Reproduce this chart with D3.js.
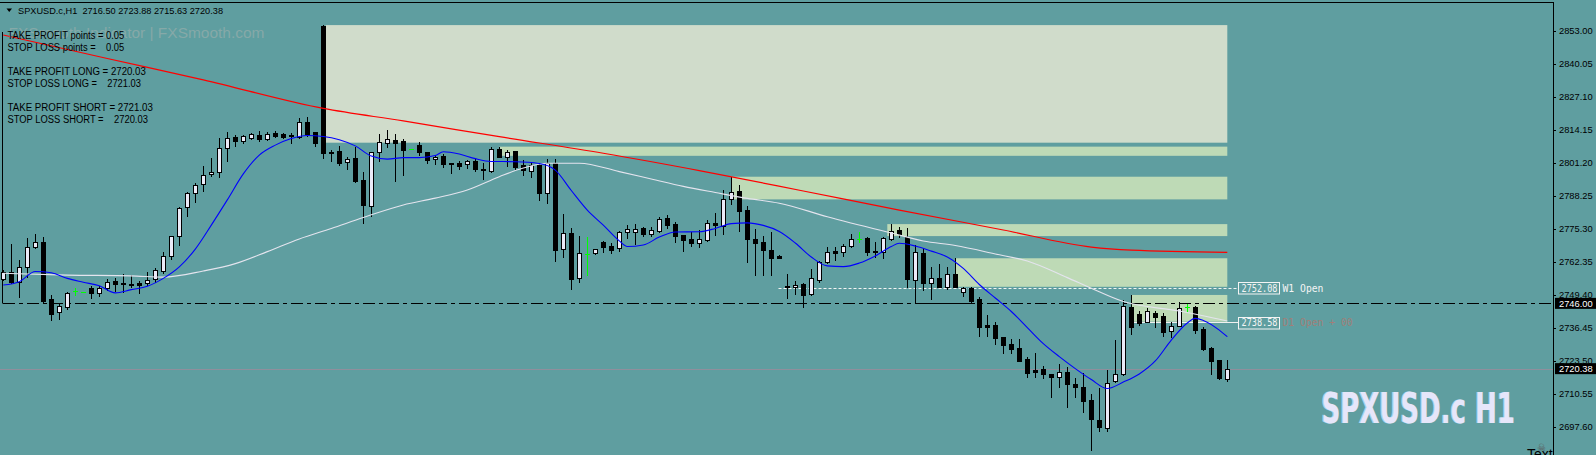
<!DOCTYPE html>
<html><head><meta charset="utf-8">
<script src="https://cdn.jsdelivr.net/npm/d3@7"></script>
<style>
html,body{margin:0;padding:0;background:#5f9ea0;overflow:hidden}
svg{display:block}
text{white-space:pre}
</style></head><body>
<svg id="c" width="1596" height="455"></svg>
<script>
// ---------------- DATA ----------------
const symbolTitle = "SPXUSD.c,H1";
const titleOHLC = "2716.50 2723.88 2715.63 2720.38";
const opens = [2755.4,2758.4,2754.5,2760.2,2768.2,2770.1,2747.6,2742.7,2744.5,2750.8,2750.5,2752.1,2750.2,2751.9,2754.8,2753.9,2753.6,2754.1,2753.9,2755.4,
2758.7,2764.6,2772.5,2783.7,2789.2,2792.7,2796.6,2797.7,2806.9,2811.4,2809.7,2810.8,2812.1,2810.4,2813.0,2812.3,2811.9,2811.4,2817.1,2813.1,
2854.8,2805.4,2805.8,2801.6,2803.2,2794.4,2784.3,2805.3,2809.0,2810.1,2809.7,2806.5,2808.1,2805.3,2802.5,2803.8,2801.0,2801.0,2800.6,2801.9,
2798.7,2798.1,2806.6,2803.5,2805.8,2800.3,2798.1,2800.3,2789.2,2801.2,2767.2,2773.5,2755.8,2765.3,2765.6,2770.0,2768.5,2767.6,2774.1,2774.1,
2775.5,2773.1,2774.5,2779.4,2777.1,2772.8,2771.3,2769.6,2770.9,2777.4,2776.5,2786.8,2790.1,2782.6,2771.1,2770.2,2766.9,2764.6,2753.0,2752.3,
2753.5,2749.6,2755.2,2762.3,2766.5,2766.3,2768.6,2771.1,2771.8,2766.4,2766.0,2771.1,2774.8,2772.2,2755.2,2765.6,2753.9,2755.8,2752.5,2757.5,
2750.3,2751.9,2747.6,2737.5,2737.5,2732.7,2730.0,2728.4,2724.2,2719.8,2720.2,2718.2,2717.2,2718.9,2714.4,2713.3,2708.1,2700.2,2697.0,2715.5,
2718.3,2744.5,2741.8,2738.8,2742.1,2741.0,2735.3,2737.2,2744.5,2744.7,2735.9,2728.4,2723.8,2716.50];
const highs = [2759.1,2769.3,2763.0,2771.5,2773.2,2772.2,2749.3,2746.0,2750.5,2751.9,2750.6,2752.8,2752.8,2755.4,2755.8,2757.5,2757.0,2754.9,2758.4,2759.8,
2766.2,2772.3,2783.7,2789.8,2793.1,2800.0,2802.9,2810.8,2813.4,2812.1,2812.1,2812.7,2813.6,2813.4,2813.6,2812.7,2812.7,2818.6,2819.0,2813.4,
2855.2,2806.2,2807.8,2803.6,2807.5,2797.4,2805.5,2812.3,2814.0,2812.3,2810.5,2806.6,2809.2,2805.5,2804.2,2804.6,2801.0,2801.9,2802.3,2802.5,
2801.0,2807.5,2807.5,2806.2,2805.8,2802.3,2801.2,2801.2,2802.5,2802.5,2781.1,2775.5,2772.4,2772.2,2767.3,2770.6,2769.6,2774.5,2776.8,2777.1,
2776.1,2775.8,2779.8,2780.7,2778.0,2772.8,2774.1,2774.8,2778.7,2781.5,2790.5,2795.7,2792.4,2784.2,2775.1,2772.4,2773.9,2764.8,2757.5,2754.8,
2753.9,2759.4,2762.6,2768.2,2768.2,2769.2,2773.2,2774.1,2772.2,2770.2,2772.2,2777.1,2775.8,2775.5,2768.9,2767.6,2760.2,2761.4,2760.4,2763.7,
2752.5,2752.5,2748.4,2741.4,2738.8,2732.9,2731.9,2731.9,2724.8,2726.4,2721.4,2718.2,2722.2,2720.9,2716.6,2718.6,2710.4,2712.7,2719.8,2731.6,
2747.3,2749.3,2743.1,2744.1,2743.1,2742.1,2738.8,2746.7,2745.7,2745.0,2736.8,2728.7,2723.9,2723.88];
const lows = [2755.2,2753.9,2748.6,2756.2,2767.9,2746.6,2739.5,2739.9,2743.7,2749.3,2750.4,2748.0,2748.9,2751.2,2751.0,2750.5,2752.5,2750.2,2753.2,2754.5,
2758.0,2763.3,2768.9,2780.3,2785.9,2790.2,2796.0,2795.5,2802.0,2807.9,2808.8,2810.4,2809.8,2810.1,2811.4,2810.8,2808.8,2811.0,2811.7,2807.9,
2803.2,2802.0,2800.3,2798.7,2793.6,2777.7,2780.3,2802.0,2807.5,2794.1,2796.4,2806.4,2804.2,2801.2,2800.7,2799.6,2797.3,2798.7,2799.2,2798.1,
2794.8,2797.7,2803.5,2799.9,2798.7,2796.4,2795.7,2786.6,2785.3,2762.7,2764.1,2751.5,2754.5,2757.1,2765.5,2766.3,2765.9,2766.7,2771.8,2769.3,
2772.6,2772.6,2774.1,2775.5,2770.2,2766.5,2768.6,2768.2,2770.6,2773.0,2773.2,2784.9,2774.4,2762.3,2757.1,2757.1,2757.1,2763.8,2748.2,2749.7,
2744.7,2749.3,2754.5,2761.7,2763.0,2764.6,2768.2,2770.2,2765.0,2764.3,2763.7,2770.9,2772.2,2752.3,2746.0,2751.2,2747.7,2752.3,2751.5,2752.3,
2749.0,2746.0,2733.2,2733.2,2730.0,2726.6,2726.6,2723.5,2717.0,2717.2,2716.6,2709.1,2713.3,2705.4,2709.1,2703.5,2688.4,2696.0,2695.9,2715.1,
2718.0,2734.0,2737.5,2738.6,2736.8,2733.2,2732.9,2737.1,2742.7,2734.2,2727.7,2718.3,2716.3,2715.63];
const closes = [2758.4,2754.3,2760.2,2768.0,2770.1,2747.0,2741.7,2745.0,2749.9,2750.8,2750.5,2750.2,2751.9,2754.3,2753.5,2753.5,2753.4,2753.2,2755.2,2759.1,
2764.6,2772.3,2783.4,2789.2,2792.3,2796.3,2797.6,2806.9,2811.0,2809.7,2811.7,2812.3,2810.5,2812.5,2811.8,2811.4,2811.7,2817.2,2812.5,2808.8,
2805.1,2805.2,2801.2,2802.5,2794.0,2784.6,2805.3,2809.2,2810.5,2809.0,2806.2,2806.5,2805.3,2802.3,2803.6,2800.7,2800.6,2800.0,2801.7,2798.7,
2798.3,2806.6,2803.5,2805.3,2799.6,2798.3,2800.3,2789.2,2801.1,2766.9,2773.5,2755.4,2765.6,2765.3,2767.2,2768.2,2766.9,2773.9,2775.2,2775.2,
2773.1,2774.8,2779.1,2776.8,2772.6,2770.9,2769.6,2771.1,2777.4,2776.9,2786.8,2789.6,2782.4,2771.3,2769.8,2767.0,2763.9,2763.9,2752.4,2753.2,
2749.3,2755.8,2762.1,2766.0,2765.9,2768.5,2771.3,2771.1,2766.3,2766.1,2771.5,2774.5,2773.1,2755.6,2766.0,2753.9,2755.8,2752.5,2757.5,2752.5,
2751.9,2747.0,2736.6,2736.8,2732.5,2729.7,2728.1,2723.5,2718.8,2719.2,2718.3,2717.2,2718.9,2714.2,2713.3,2707.8,2700.5,2697.4,2714.6,2718.2,
2745.0,2736.8,2738.4,2743.0,2740.5,2734.9,2737.1,2744.1,2744.5,2735.5,2728.1,2723.5,2716.6,2720.38];

// moving averages: [bar index, price]
const maSlow = [[0,2851.3],[13,2842.1],[25,2833.7],[40,2822.5],[50,2817.6],[62,2811.4],[75,2804.9],[87,2798.1],[100,2790.1],[112,2782.6],[125,2774.8],[136,2768.1],[141,2766.9],[153,2766.0]];
const maMid = [[0,2757.8],[8,2757.1],[16,2756.8],[20,2756.3],[25,2758.7],[29,2761.6],[33,2766.3],[37,2771.3],[41,2775.4],[45,2779.7],[50,2784.6],[54,2787.3],[58,2790.5],[62,2795.7],[65,2799.1],[68,2801.0],[72,2801.0],[77,2797.7],[81,2794.8],[85,2791.9],[89,2789.5],[93,2787.2],[97,2785.3],[103,2780.0],[111,2773.6],[115,2770.5],[119,2768.7],[124,2765.4],[128,2762.6],[133,2756.1],[136,2751.9],[140,2746.7],[147,2743.0],[153,2739.1]];
const maFast = [[0,2753.2],[2,2754.5],[4,2758.5],[6,2758.0],[8,2755.8],[10,2754.3],[12,2752.9],[14,2750.1],[16,2751.4],[18,2752.7],[20,2755.8],[22,2760.3],[24,2767.3],[26,2776.7],[28,2786.6],[30,2796.8],[32,2804.2],[34,2808.1],[36,2810.7],[38,2811.9],[40,2811.5],[42,2810.2],[44,2807.8],[46,2803.8],[48,2802.6],[50,2803.2],[52,2803.2],[54,2804.0],[55,2805.5],[57,2804.6],[59,2802.8],[61,2801.7],[64,2801.6],[67,2800.9],[69,2798.3],[71,2790.3],[73,2782.6],[75,2776.7],[77,2770.5],[78,2768.3],[80,2768.9],[82,2772.0],[84,2774.0],[87,2774.1],[89,2775.4],[91,2777.3],[93,2777.6],[95,2776.6],[97,2774.2],[99,2769.7],[101,2764.2],[103,2760.7],[105,2760.4],[107,2761.8],[109,2764.6],[111,2768.3],[112,2769.6],[114,2768.5],[116,2766.5],[118,2764.2],[120,2759.7],[122,2753.4],[124,2748.1],[126,2742.8],[128,2736.5],[130,2730.2],[132,2725.1],[134,2720.4],[136,2716.1],[138,2712.6],[140,2715.1],[142,2718.3],[144,2723.4],[146,2731.6],[148,2738.3],[149,2740.1],[150,2739.3],[152,2735.5],[153,2732.9]];

// zones
const zoneStart = [40.3, 62, 91, 110.5, 119, 141];
const zoneEnd = [153, 153, 153, 153, 153, 153];
const zoneTop = [2855.2, 2807.5, 2795.7, 2777.1, 2763.7, 2749.3];
const zoneBottom = [2809.05, 2803.9, 2786.8, 2772.4, 2752.5, 2738.8];

// price ticks and levels
const tickValues = [2853.00,2840.05,2827.10,2814.15,2801.20,2788.25,2775.30,2762.35,2749.40,2736.45,2723.50,2710.55,2697.60];
const levelLine = 2746.00;
const lastPrice = 2720.38;
const w1Open = 2752.08, w1Start = 96.9, w1Label = "W1 Open";
const d1Open = 2738.58, d1Start = 141, d1Label = "D1 Open + 00";
const solidSegment = [114, 121];

const infoLines = ["TAKE PROFIT points = 0.05","STOP LOSS points =    0.05","","TAKE PROFIT LONG = 2720.03","STOP LOSS LONG =    2721.03","","TAKE PROFIT SHORT = 2721.03","STOP LOSS SHORT =    2720.03"];
const watermark = "FXSmooth Indicator | FXSmooth.com";
const bigLabel = "SPXUSD.c H1";

// ---------------- DRAW ----------------
const W = 1596, H = 455, axisX = 1553;
const svg = d3.select('#c');
const x = d3.scaleLinear().domain([0, 153]).range([3.3, 1227.3]);
const y = d3.scaleLinear().domain([2697.6, 2853.0]).range([426.7, 30.7]);
const f2 = d3.format('.2f');

svg.append('rect').attr('width', W).attr('height', H).attr('fill', '#5f9ea0');
svg.append('defs').append('clipPath').attr('id','clip').append('rect').attr('x',0).attr('y',0).attr('width',axisX).attr('height',H);
const plot = svg.append('g').attr('clip-path','url(#clip)');

// zones
zoneStart.forEach((s, k) => {
  plot.append('rect')
    .attr('x', x(s)).attr('width', x(zoneEnd[k]) - x(s))
    .attr('y', y(zoneTop[k])).attr('height', y(zoneBottom[k]) - y(zoneTop[k]))
    .attr('fill', k === 0 ? '#d0dccb' : '#bedab6');
});

// last price grey line
plot.append('line').attr('x1',0).attr('x2',axisX).attr('y1',Math.round(y(lastPrice))+0.5).attr('y2',Math.round(y(lastPrice))+0.5)
  .attr('stroke','#8f8f9c').attr('stroke-width',1);

// dash-dot level
const ly = Math.round(y(levelLine)) + 0.5;
plot.append('line').attr('x1',3).attr('x2',axisX).attr('y1',ly).attr('y2',ly)
  .attr('stroke','#000').attr('stroke-width',1).attr('stroke-dasharray','12,4,4,4');
plot.append('line').attr('x1',x(solidSegment[0])).attr('x2',x(solidSegment[1])).attr('y1',ly).attr('y2',ly)
  .attr('stroke','#000').attr('stroke-width',1);

// frame lines
svg.append('line').attr('x1',0).attr('x2',axisX).attr('y1',2.5).attr('y2',2.5).attr('stroke','#000');
plot.append('line').attr('x1',2.5).attr('x2',2.5).attr('y1',32).attr('y2',ly).attr('stroke','#000');

// W1 / D1 lines
const boxX = 1238.5, boxW = 41, boxH = 11.5;
const wy = Math.round(y(w1Open)) + 0.5;
plot.append('line').attr('x1',x(w1Start)).attr('x2',boxX).attr('y1',wy).attr('y2',wy)
  .attr('stroke','#f4f4f4').attr('stroke-dasharray','3,2');
const dy = Math.round(y(d1Open)) + 0.5;
plot.append('line').attr('x1',x(d1Start)).attr('x2',boxX).attr('y1',dy).attr('y2',dy)
  .attr('stroke','#f0f0f0');

// candles
const cg = plot.append('g').attr('shape-rendering','crispEdges');
opens.forEach((o, i) => {
  const c = closes[i], h = highs[i], l = lows[i];
  const cx = Math.round(x(i));
  const doji = o === c;
  const col = doji ? '#00ff00' : '#000';
  cg.append('line').attr('x1',cx+0.5).attr('x2',cx+0.5)
    .attr('y1',Math.round(y(h))).attr('y2',Math.round(y(l))+1)
    .attr('stroke',col).attr('stroke-width',1);
  const top = Math.round(y(Math.max(o,c))), bot = Math.round(y(Math.min(o,c)));
  if (doji) {
    cg.append('line').attr('x1',cx-2).attr('x2',cx+3).attr('y1',top+0.5).attr('y2',top+0.5)
      .attr('stroke',col).attr('stroke-width',1);
  } else if (c > o) {
    cg.append('rect').attr('x',cx-1.5).attr('y',top+0.5).attr('width',4).attr('height',Math.max(bot-top,1))
      .attr('fill','#ebebf8').attr('stroke','#000').attr('stroke-width',1);
  } else {
    cg.append('rect').attr('x',cx-2).attr('y',top).attr('width',5).attr('height',Math.max(bot-top+1,2))
      .attr('fill','#000');
  }
});

// moving averages
const lineGen = d3.line().x(d => x(d[0])).y(d => y(d[1])).curve(d3.curveMonotoneX);
plot.append('path').attr('d', lineGen(maMid)).attr('fill','none').attr('stroke','#e4e4ee').attr('stroke-width',1.1);
plot.append('path').attr('d', lineGen(maSlow)).attr('fill','none').attr('stroke','#ff0000').attr('stroke-width',1.2);
plot.append('path').attr('d', lineGen(maFast)).attr('fill','none').attr('stroke','#0000ff').attr('stroke-width',1.1);

// label boxes W1/D1
function levelBox(price, txt, col) {
  const cy = y(price);
  plot.append('rect').attr('x',boxX).attr('y',Math.round(cy - boxH/2)+0.5).attr('width',boxW).attr('height',boxH)
    .attr('fill','none').attr('stroke','#f4f4f4').attr('stroke-width',1);
  plot.append('text').attr('x',boxX+3).attr('y',cy+4).text(f2(price))
    .attr('font-family','DejaVu Sans Mono').attr('font-size',11).attr('fill','#f4f4f4')
    .attr('textLength',36).attr('lengthAdjust','spacingAndGlyphs');
  plot.append('text').attr('x',boxX+44).attr('y',cy+4).text(txt)
    .attr('font-family','DejaVu Sans Mono').attr('font-size',10.5).attr('fill',col)
    .attr('textLength',txt.length*5.85).attr('lengthAdjust','spacingAndGlyphs');
}
levelBox(w1Open, w1Label, '#f4f4f4');
levelBox(d1Open, d1Label, '#a07e78');

// axis
const axis = d3.axisRight(y).tickValues(tickValues).tickFormat(f2).tickSize(3).tickPadding(3);
const ag = svg.append('g').attr('transform',`translate(${axisX},0)`).call(axis);
ag.select('.domain').remove();
ag.selectAll('line').attr('stroke','#000').attr('shape-rendering','crispEdges');
ag.selectAll('text').attr('font-family','Liberation Sans, Arial, sans-serif').attr('font-size',9.3).attr('fill','#000');
svg.append('line').attr('x1',axisX+0.5).attr('x2',axisX+0.5).attr('y1',2).attr('y2',H).attr('stroke','#000').attr('shape-rendering','crispEdges');

function priceTag(p) {
  const cy = y(p);
  svg.append('rect').attr('x',axisX+2).attr('y',cy-5.5).attr('width',W-axisX-2).attr('height',11).attr('fill','#000');
  svg.append('text').attr('x',axisX+6).attr('y',cy+3.4).text(f2(p))
    .attr('font-family','Liberation Sans, Arial, sans-serif').attr('font-size',9.3).attr('fill','#fff');
}
priceTag(levelLine);
priceTag(lastPrice);

// title
svg.append('path').attr('d','M6.5,8.5 L12,8.5 L9.25,12 Z').attr('fill','#000');
svg.append('text').attr('x',18).attr('y',14).text(symbolTitle + '  ' + titleOHLC)
  .attr('font-family','Liberation Sans, Arial, sans-serif').attr('font-size',9.6).attr('fill','#000')
  .attr('textLength',205).attr('lengthAdjust','spacingAndGlyphs');

// watermark
plot.append('text').attr('x',8.5).attr('y',37.5).text(watermark)
  .attr('font-family','Liberation Sans, Arial, sans-serif').attr('font-size',15.5).attr('fill','#86a9a8')
  .attr('textLength',256).attr('lengthAdjust','spacingAndGlyphs');

// info lines
const infoW = [116.7, 116.7, 0, 138.3, 133.4, 0, 145.4, 140.4];
const infoY = [38.5, 51.2, 0, 75.2, 86.5, 0, 111.2, 122.8];
infoLines.forEach((t, k) => {
  if (!t) return;
  plot.append('text').attr('x',7.5).attr('y',infoY[k]).text(t)
    .attr('font-family','Liberation Sans, Arial, sans-serif').attr('font-size',10).attr('fill','#000')
    .attr('textLength',infoW[k]).attr('lengthAdjust','spacingAndGlyphs');
});

// big label
plot.append('text').attr('x',1320.5).attr('y',422.7).text(bigLabel)
  .attr('font-family',"'Liberation Sans Narrow','DejaVu Sans Condensed','Liberation Sans',sans-serif").attr('font-weight','bold')
  .attr('font-size',43).attr('fill','#a6d4ee').attr('textLength',193.5).attr('lengthAdjust','spacingAndGlyphs');
plot.append('text').attr('x',1321.7).attr('y',422.7).text(bigLabel)
  .attr('font-family',"'Liberation Sans Narrow','DejaVu Sans Condensed','Liberation Sans',sans-serif").attr('font-weight','bold')
  .attr('font-size',43).attr('fill','#e6e6fa').attr('textLength',193.3).attr('lengthAdjust','spacingAndGlyphs');

// bottom-right text object
plot.append('text').attr('x',1537).attr('y',451).text('\u2620').attr('font-family','DejaVu Sans').attr('font-size',10).attr('fill','#5a5a5a');
plot.append('text').attr('x',1527).attr('y',459).text('Text').attr('font-family','Liberation Sans, Arial, sans-serif').attr('font-size',14).attr('fill','#000');
</script>
</body></html>
